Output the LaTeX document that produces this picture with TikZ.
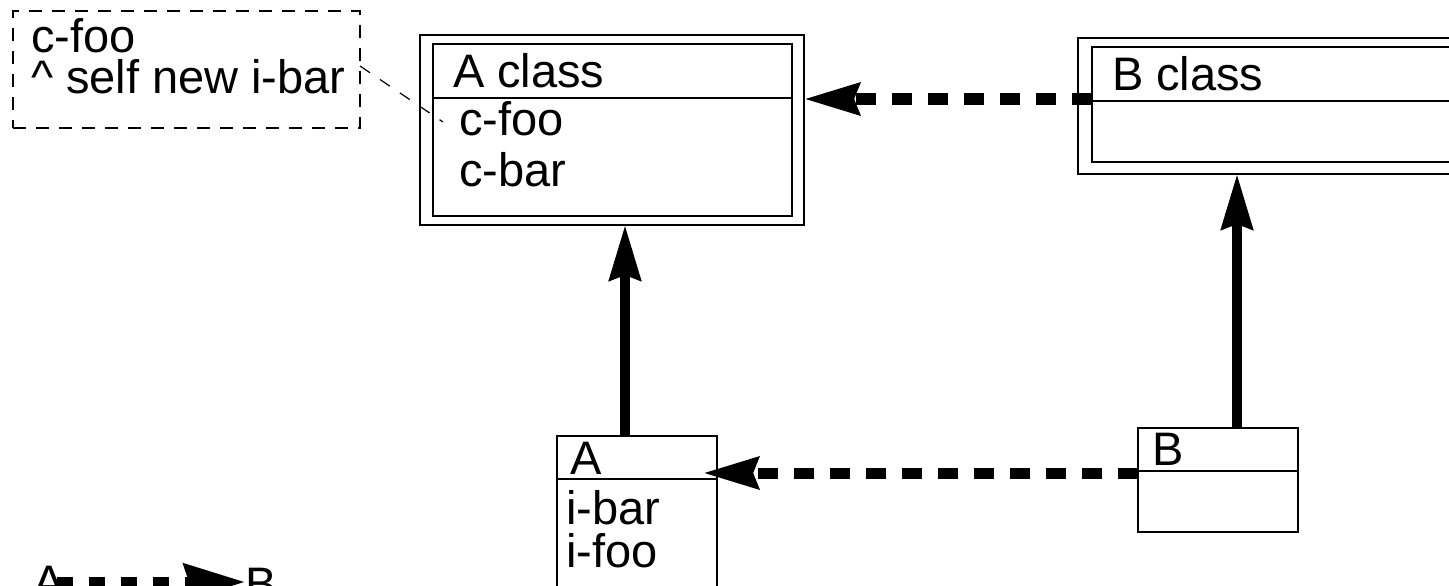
\documentclass[tikz,border=0pt]{standalone}
\usepackage{fontspec}
\setmainfont{Liberation Sans}
\usepackage{tikz}
\usetikzlibrary{positioning,arrows.meta,calc}
\tikzset{
  umlbox/.style={draw, line width=1.5pt, inner sep=0pt, outer sep=0pt},
  notebox/.style={draw, line width=1.5pt, dash pattern=on 13pt off 10pt, inner sep=0pt, outer sep=0pt},
  lbl/.style={font=\fontsize{47}{48}\selectfont, inner sep=0pt, outer sep=0pt, anchor=base west},
  divider/.style={line width=1.5pt},
  inherit/.style={line width=10pt, -{Stealth[length=55pt, width=31pt, inset=5pt]}},
  meta/.style={line width=11pt, dash pattern=on 20pt off 16pt, -{Stealth[length=55pt, width=31pt, inset=5pt]}},
  notelink/.style={line width=1.2pt, dash pattern=on 12pt off 12pt}
}

\begin{document}
\begin{tikzpicture}[x=1pt, y=-1pt]
    \useasboundingbox (0,0) rectangle (1449,586);
    \clip (0,0) rectangle (1449,586);
    % class side
    \node[umlbox, minimum width=384pt, minimum height=190pt] (aclass) at (612,130) {};
    \node[umlbox, minimum width=359pt, minimum height=172pt] (aclassin) at (612.5,130) {};
    \draw[divider] (aclassin.west |- 0,98) -- (aclassin.east |- 0,98);
    \node[umlbox, minimum width=402pt, minimum height=136pt] (bclass) at (1279,106) {};
    \node[umlbox, minimum width=374pt, minimum height=115pt] (bclassin) at (1279,104.5) {};
    \draw[divider] (bclassin.west |- 0,101) -- (bclassin.east |- 0,101);
    % instance side
    \node[umlbox, minimum width=160pt, minimum height=184pt] (abox) at (637,528) {};
    \draw[divider] (abox.west |- 0,479) -- (abox.east |- 0,479);
    \node[umlbox, minimum width=160pt, minimum height=104pt] (bbox) at (1218,480) {};
    \draw[divider] (bbox.west |- 0,471) -- (bbox.east |- 0,471);
    % labels
    \node[lbl] (aname) at (453,88) {A class};
    \node[lbl] (acfoo) at (459,135) {c-foo};
    \node[lbl] (acbar) at (459,186) {c-bar};
    \node[lbl] (bname) at (1112,90) {B class};
    \node[lbl] (ainame) at (570,474) {A};
    \node[lbl] (aibar) at (566,524) {i-bar};
    \node[lbl] (aifoo) at (566,567) {i-foo};
    \node[lbl] (biname) at (1152,465) {B};
    % note
    \node[notebox, minimum width=347pt, minimum height=117pt] (note) at (186.5,69.5) {};
    \node[lbl] (notea) at (31,53) {c-foo};
    \node[lbl] (noteb) at (31,93) {\^{} self new i-bar};
    \coordinate (cfoolink) at (443,122);
    \draw[notelink] (note.east |- 0,66) -- (cfoolink);
    % connectors
    \draw[meta] (bclassin.west |- 0,99) -- (aclass.east |- 0,99);
    \draw[meta] (bbox.west |- 0,473) -- ($(abox.east |- 0,473)+(-14,0)$);
    \draw[inherit] (625,0 |- abox.north) -- (625,0 |- aclass.south);
    \draw[inherit] (1237,0 |- bbox.north) -- (1237,0 |- bclass.south);
    % legend
    \node[lbl] (lega) at (33,598) {A};
    \node[lbl] (legb) at (245,600) {B};
    \draw[line width=10pt, dash pattern=on 16pt off 16pt, -{Stealth[length=61pt, width=36pt, inset=5pt]}] (57,582) -- (legb.west |- 0,582) ;
  \end{tikzpicture}
\end{document}
